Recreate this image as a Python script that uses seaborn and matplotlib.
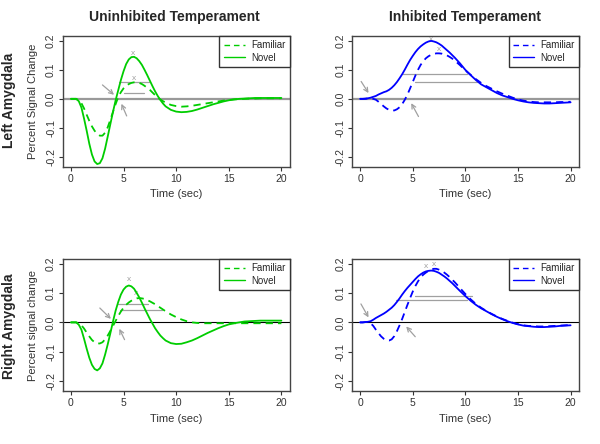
import numpy as np
import pandas as pd
import seaborn as sns
import matplotlib
matplotlib.use("Agg")
import matplotlib.pyplot as plt

# quarter-second samples up to 9 s, half-second after
t = np.concatenate([np.arange(0, 9.01, 0.25), np.arange(9.5, 20.01, 0.5)])

ul_fam = [0, 0, 0, -0.005, -0.015, -0.033, -0.055, -0.076, -0.095, -0.11, -0.121, -0.127, -0.127,
          -0.117, -0.098, -0.072, -0.045, -0.018, 0.006, 0.023, 0.036, 0.045, 0.051, 0.055, 0.057,
          0.057, 0.055, 0.051, 0.045, 0.038, 0.031, 0.022, 0.013, 0.005, -0.002, -0.008, -0.013,
          -0.021, -0.025, -0.027, -0.026, -0.024, -0.021, -0.018, -0.015, -0.012, -0.009, -0.006,
          -0.004, -0.002, -0.001, 0, 0.001, 0.001, 0.002, 0.002, 0.002, 0.002, 0.002]
ul_nov = [0, 0, 0, -0.008, -0.03, -0.068, -0.11, -0.155, -0.192, -0.216, -0.225, -0.222, -0.205,
          -0.172, -0.13, -0.087, -0.045, -0.005, 0.03, 0.065, 0.095, 0.12, 0.136, 0.144, 0.145,
          0.14, 0.13, 0.117, 0.1, 0.082, 0.063, 0.044, 0.026, 0.01, -0.004, -0.016, -0.026,
          -0.038, -0.044, -0.046, -0.045, -0.042, -0.037, -0.031, -0.025, -0.019, -0.014, -0.009,
          -0.005, -0.002, 0, 0.001, 0.002, 0.003, 0.003, 0.003, 0.003, 0.003, 0.003]
ur_fam = [0, 0, 0, 0.001, 0.001, 0.0, -0.003, -0.01, -0.018, -0.026, -0.033, -0.038, -0.04,
          -0.04, -0.036, -0.029, -0.018, -0.003, 0.015, 0.036, 0.058, 0.08, 0.1, 0.117, 0.13,
          0.14, 0.147, 0.152, 0.155, 0.157, 0.157, 0.156, 0.153, 0.15, 0.145, 0.139, 0.132,
          0.116, 0.098, 0.083, 0.068, 0.055, 0.044, 0.035, 0.026, 0.018, 0.011, 0.004,
          -0.002, -0.006, -0.009, -0.011, -0.012, -0.012, -0.012, -0.012, -0.011, -0.011, -0.01]
ur_nov = [0, 0, 0.001, 0.002, 0.004, 0.007, 0.01, 0.015, 0.019, 0.023, 0.026, 0.031, 0.038,
          0.047, 0.058, 0.071, 0.085, 0.101, 0.118, 0.134, 0.148, 0.161, 0.172, 0.181, 0.188,
          0.194, 0.198, 0.2, 0.198, 0.195, 0.19, 0.184, 0.176, 0.168, 0.16, 0.151, 0.142,
          0.122, 0.1, 0.082, 0.065, 0.05, 0.04, 0.03, 0.02, 0.012, 0.006, 0.0,
          -0.005, -0.009, -0.012, -0.014, -0.015, -0.016, -0.016, -0.015, -0.014, -0.013, -0.012]
ll_fam = [0, 0, 0, -0.003, -0.01, -0.021, -0.035, -0.048, -0.06, -0.068, -0.072, -0.072, -0.068,
          -0.058, -0.045, -0.029, -0.012, 0.005, 0.022, 0.037, 0.05, 0.06, 0.068, 0.074, 0.079,
          0.082, 0.083, 0.082, 0.08, 0.076, 0.072, 0.067, 0.062, 0.056, 0.05, 0.044, 0.038,
          0.027, 0.018, 0.01, 0.004, 0.0, -0.002, -0.003, -0.003, -0.003, -0.003, -0.003,
          -0.003, -0.003, -0.003, -0.003, -0.003, -0.003, -0.003, -0.003, -0.003, -0.003, -0.003]
ll_nov = [0, 0, 0, -0.008, -0.025, -0.056, -0.09, -0.121, -0.145, -0.159, -0.164, -0.157, -0.14,
          -0.11, -0.075, -0.037, 0.003, 0.04, 0.07, 0.095, 0.112, 0.122, 0.126, 0.123, 0.115,
          0.101, 0.085, 0.067, 0.048, 0.03, 0.012, -0.004, -0.02, -0.033, -0.045, -0.054, -0.062,
          -0.071, -0.074, -0.073, -0.068, -0.062, -0.054, -0.045, -0.036, -0.028, -0.02, -0.013,
          -0.007, -0.003, 0, 0.003, 0.004, 0.005, 0.006, 0.006, 0.006, 0.006, 0.006]
lr_fam = [0, 0, 0.001, 0.001, -0.003, -0.012, -0.025, -0.037, -0.048, -0.056, -0.061, -0.062, -0.058,
          -0.047, -0.03, -0.01, 0.012, 0.036, 0.06, 0.083, 0.105, 0.124, 0.14, 0.153, 0.163,
          0.17, 0.176, 0.18, 0.183, 0.183, 0.18, 0.176, 0.17, 0.163, 0.155, 0.146, 0.137,
          0.117, 0.097, 0.079, 0.063, 0.05, 0.039, 0.029, 0.02, 0.012, 0.005, -0.001,
          -0.006, -0.01, -0.012, -0.013, -0.014, -0.014, -0.013, -0.012, -0.011, -0.01, -0.009]
lr_nov = [0, 0, 0.001, 0.002, 0.004, 0.009, 0.015, 0.02, 0.025, 0.03, 0.036, 0.043, 0.05,
          0.059, 0.07, 0.082, 0.095, 0.107, 0.118, 0.128, 0.138, 0.148, 0.157, 0.164, 0.17,
          0.174, 0.176, 0.177, 0.176, 0.173, 0.169, 0.163, 0.157, 0.15, 0.142, 0.134, 0.125,
          0.107, 0.09, 0.074, 0.06, 0.048, 0.038, 0.028, 0.019, 0.011, 0.004, -0.002,
          -0.007, -0.011, -0.013, -0.015, -0.016, -0.016, -0.015, -0.014, -0.012, -0.011, -0.01]

# gray guide lines (y, x0, x1), peak marks (x, y), arrows (x_from, y_from, x_to, y_to)
ul_hlines = [(0.058, 4.6, 7.4), (0.02, 5.0, 6.9)]
ul_marks = [(5.9, 0.158), (6.0, 0.07)]
ul_arrows = [(3.0, 0.048, 4.1, 0.014), (5.3, -0.059, 4.8, -0.017)]
ur_hlines = [(0.085, 4.1, 10.2), (0.057, 5.2, 11.1)]
ur_marks = [(6.7, 0.205), (7.5, 0.17)]
ur_arrows = [(0.1, 0.06, 0.8, 0.02), (5.55, -0.061, 4.86, -0.015)]
ll_hlines = [(0.062, 4.5, 7.3), (0.041, 4.7, 8.7)]
ll_marks = [(5.5, 0.145), (6.2, 0.098)]
ll_arrows = [(2.75, 0.049, 3.8, 0.012), (5.1, -0.059, 4.6, -0.022)]
lr_hlines = [(0.09, 5.2, 10.6), (0.075, 3.4, 10.2)]
lr_marks = [(6.3, 0.192), (7.0, 0.199)]
lr_arrows = [(0.08, 0.063, 0.8, 0.017), (5.24, -0.049, 4.38, -0.014)]

sns.set_style("white")
plt.rcParams['font.family'] = ['Liberation Sans', 'DejaVu Sans']

fig = plt.figure(figsize=(6, 4.44), dpi=100)
pos = {
    'ul': [0.105, 0.624, 0.378, 0.295],
    'ur': [0.587, 0.624, 0.378, 0.295],
    'll': [0.105, 0.119, 0.378, 0.298],
    'lr': [0.587, 0.119, 0.378, 0.298],
}
panels = [
    ('ul', ul_fam, ul_nov, '#00cd00', '#999999', 1.6, ul_hlines, ul_marks, ul_arrows, 'Percent Signal Change'),
    ('ur', ur_fam, ur_nov, '#0000ff', '#999999', 1.6, ur_hlines, ur_marks, ur_arrows, None),
    ('ll', ll_fam, ll_nov, '#00cd00', 'black', 0.8, ll_hlines, ll_marks, ll_arrows, 'Percent signal change'),
    ('lr', lr_fam, lr_nov, '#0000ff', 'black', 0.8, lr_hlines, lr_marks, lr_arrows, None),
]

for key, fam, nov, col, zcol, zlw, hl, mk, arr, ylab in panels:
    assert len(fam) == len(t) and len(nov) == len(t)
    ax = fig.add_axes(pos[key])
    df = pd.DataFrame({
        't': np.concatenate([t, t]),
        'v': np.concatenate([fam, nov]),
        'cond': ['Familiar'] * len(t) + ['Novel'] * len(t),
    })
    ax.axhline(0, color=zcol, lw=zlw, zorder=1)
    for y, x0, x1 in hl:
        ax.plot([x0, x1], [y, y], color='#a0a0a0', lw=0.9, zorder=1)
    for x, y in mk:
        ax.text(x, y, 'x', color='#a0a0a0', fontsize=6, ha='center', va='center')
    for x0, y0, x1, y1 in arr:
        ax.annotate('', xy=(x1, y1), xytext=(x0, y0),
                    arrowprops=dict(arrowstyle='->,head_length=0.3,head_width=0.15',
                                    color='#a0a0a0', lw=0.9, shrinkA=0, shrinkB=0))
    sns.lineplot(data=df, x='t', y='v', style='cond', style_order=['Familiar', 'Novel'],
                 dashes={'Familiar': (4, 2.8), 'Novel': ''}, color=col, lw=1.3,
                 estimator=None, sort=False, ax=ax, zorder=3)
    h, l = ax.get_legend_handles_labels()
    leg = ax.legend(h[-2:], l[-2:], loc='upper right', fontsize=7, frameon=True,
                    fancybox=False, edgecolor='#333333', framealpha=1,
                    borderaxespad=0, handlelength=2.2, handletextpad=0.6,
                    borderpad=0.45, labelspacing=0.25)
    leg.get_frame().set_linewidth(1.0)
    for ln in leg.get_lines():
        ln.set_linewidth(1.0)
    ax.set_xlim(-0.75, 20.8)
    ax.set_ylim(-0.235, 0.217)
    ax.set_xticks([0, 5, 10, 15, 20])
    ax.set_yticks([-0.2, -0.1, 0.0, 0.1, 0.2])
    ax.set_yticklabels(['-0.2', '-0.1', '0.0', '0.1', '0.2'], rotation=90, va='center')
    ax.tick_params(axis='both', labelsize=7.5, colors='#333333', length=3, width=0.8,
                   direction='out', left=True, bottom=True, pad=2)
    for s in ax.spines.values():
        s.set_color('#444444')
        s.set_linewidth(1.0)
    ax.set_xlabel('Time (sec)', fontsize=8, color='#333333', labelpad=4)
    ax.set_ylabel(ylab if ylab else '', fontsize=8, color='#333333', labelpad=6)

fig.text(0.29, 0.962, 'Uninhibited Temperament', ha='center', va='center',
         fontsize=10, fontweight='bold')
fig.text(0.775, 0.962, 'Inhibited Temperament', ha='center', va='center',
         fontsize=10, fontweight='bold')
fig.text(0.015, 0.775, 'Left Amygdala', rotation=90, ha='center', va='center',
         fontsize=10, fontweight='bold')
fig.text(0.015, 0.265, 'Right Amygdala', rotation=90, ha='center', va='center',
         fontsize=10, fontweight='bold')

fig.savefig('out.png', dpi=100)
